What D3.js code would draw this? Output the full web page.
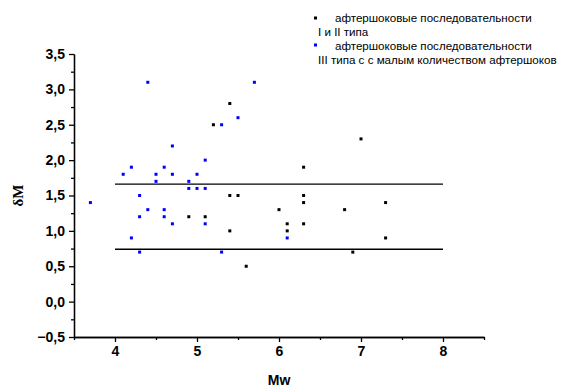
<!DOCTYPE html>
<html>
<head>
<meta charset="utf-8">
<script src="https://cdn.jsdelivr.net/npm/d3@7"></script>
<style>
	body { margin: 0; background: #fff; }
	.axis path, .axis line { stroke: #000; stroke-width: 1.3; }
	.legend text { font-family: "Liberation Sans", Arial, sans-serif; font-size: 11.6px; fill: #000; }
</style>
</head>
<body>
<svg id="svg" width="566" height="387"></svg>
<script>
// Последовательности I и II типа
var blackX = [5.4, 5.2, 5.4, 5.5, 4.9, 5.1, 5.4, 7.0, 6.3, 6.3, 6.3, 7.3, 6.0, 6.8, 6.1, 6.3, 6.1, 7.3, 6.9, 5.6];
var blackY = [2.8, 2.5, 1.5, 1.5, 1.2, 1.2, 1.0, 2.3, 1.9, 1.5, 1.4, 1.4, 1.3, 1.3, 1.1, 1.1, 1.0, 0.9, 0.7, 0.5];

// Последовательности III типа
var blueX = [4.4, 5.7, 5.5, 5.3, 4.7, 5.1, 4.2, 4.6, 4.1, 4.5, 4.7, 5.0, 4.5, 4.9, 4.9, 5.0, 5.1, 4.3, 3.7, 4.4, 4.6, 4.3, 4.6, 4.7, 5.1, 4.2, 4.3, 5.3, 6.1];
var blueY = [3.1, 3.1, 2.6, 2.5, 2.2, 2.0, 1.9, 1.9, 1.8, 1.8, 1.8, 1.8, 1.7, 1.7, 1.6, 1.6, 1.6, 1.5, 1.4, 1.3, 1.3, 1.2, 1.2, 1.1, 1.1, 0.9, 0.7, 0.7, 0.9];

// Граничные линии
var boundLevels = [1.66, 0.74];
var boundRange = [4, 8];

var xTicks = [4, 5, 6, 7, 8];
var yTicks = [-0.5, 0, 0.5, 1, 1.5, 2, 2.5, 3, 3.5];
var legendLines = ["афтершоковые последовательности", "I и II типа", "афтершоковые последовательности", "III типа с с малым количеством афтершоков"];

var svg = d3.select("svg");

var x = d3.scaleLinear().domain([3.5, 8.5]).range([74, 484]),
	y = d3.scaleLinear().domain([-0.5, 3.5]).range([337, 54]);

var fmt = function(d) { return d3.format(".1f")(d).replace(".", ","); };

function boldTicks(g) {
	g.selectAll("text")
		.attr("font-family", "'Liberation Sans', Arial, sans-serif")
		.attr("font-size", 14)
		.attr("font-weight", "bold")
		.attr("fill", "#000");
}

// Ось x
svg.append("g")
	.attr("class", "axis")
	.attr("transform", "translate(0," + y(-0.5) + ")")
	.call(d3.axisBottom(x).tickValues(xTicks).tickFormat(d3.format("d")).tickSize(5).tickSizeOuter(0).tickPadding(4))
	.call(boldTicks);
svg.append("g")
	.attr("class", "axis")
	.attr("transform", "translate(0," + y(-0.5) + ")")
	.call(d3.axisBottom(x).tickValues(d3.range(3.5, 8.6, 1)).tickFormat("").tickSize(3).tickSizeOuter(0));

// Ось y
svg.append("g")
	.attr("class", "axis")
	.attr("transform", "translate(" + x(3.5) + ",0)")
	.call(d3.axisLeft(y).tickValues(yTicks).tickFormat(fmt).tickSize(5).tickSizeOuter(0).tickPadding(4))
	.call(boldTicks);
svg.append("g")
	.attr("class", "axis")
	.attr("transform", "translate(" + x(3.5) + ",0)")
	.call(d3.axisLeft(y).tickValues(d3.range(-0.25, 3.5, 0.5)).tickFormat("").tickSize(3).tickSizeOuter(0));

// Подписи осей
svg.append("text")
	.attr("x", x(6))
	.attr("y", 385)
	.attr("text-anchor", "middle")
	.style("font", "bold 14px 'Liberation Sans', Arial, sans-serif")
	.text("Mw");
svg.append("text")
	.attr("transform", "translate(23," + y(1.5) + ") rotate(-90)")
	.attr("text-anchor", "middle")
	.style("font", "bold 15px 'Liberation Serif', 'Times New Roman', serif")
	.text("δM");

// Граничные линии
svg.selectAll(".bound")
	.data(boundLevels)
	.enter().append("line")
	.attr("class", "bound")
	.attr("x1", x(boundRange[0]))
	.attr("x2", x(boundRange[1]))
	.attr("y1", function(d) { return y(d); })
	.attr("y2", function(d) { return y(d); })
	.attr("stroke", "#000")
	.attr("stroke-width", 1.3);

// Точки
function dots(xs, ys, color) {
	svg.append("g").selectAll("rect")
		.data(xs)
		.enter().append("rect")
		.attr("x", function(d) { return x(d) - 1.5; })
		.attr("y", function(d, i) { return y(ys[i]) - 1.5; })
		.attr("width", 3)
		.attr("height", 3)
		.attr("fill", color);
}
dots(blackX, blackY, "#000");
dots(blueX, blueY, "#0000ff");

// Легенда
var legend = svg.append("g").attr("class", "legend");
legend.append("rect").attr("x", 314).attr("y", 16.5).attr("width", 3).attr("height", 3).attr("fill", "#000");
legend.append("rect").attr("x", 314).attr("y", 43.5).attr("width", 3).attr("height", 3).attr("fill", "#0000ff");
legend.append("text").attr("x", 335).attr("y", 22).text(legendLines[0]);
legend.append("text").attr("x", 318).attr("y", 36).text(legendLines[1]);
legend.append("text").attr("x", 335).attr("y", 49.5).text(legendLines[2]);
legend.append("text").attr("x", 318).attr("y", 63.5).text(legendLines[3]);
</script>
</body>
</html>
